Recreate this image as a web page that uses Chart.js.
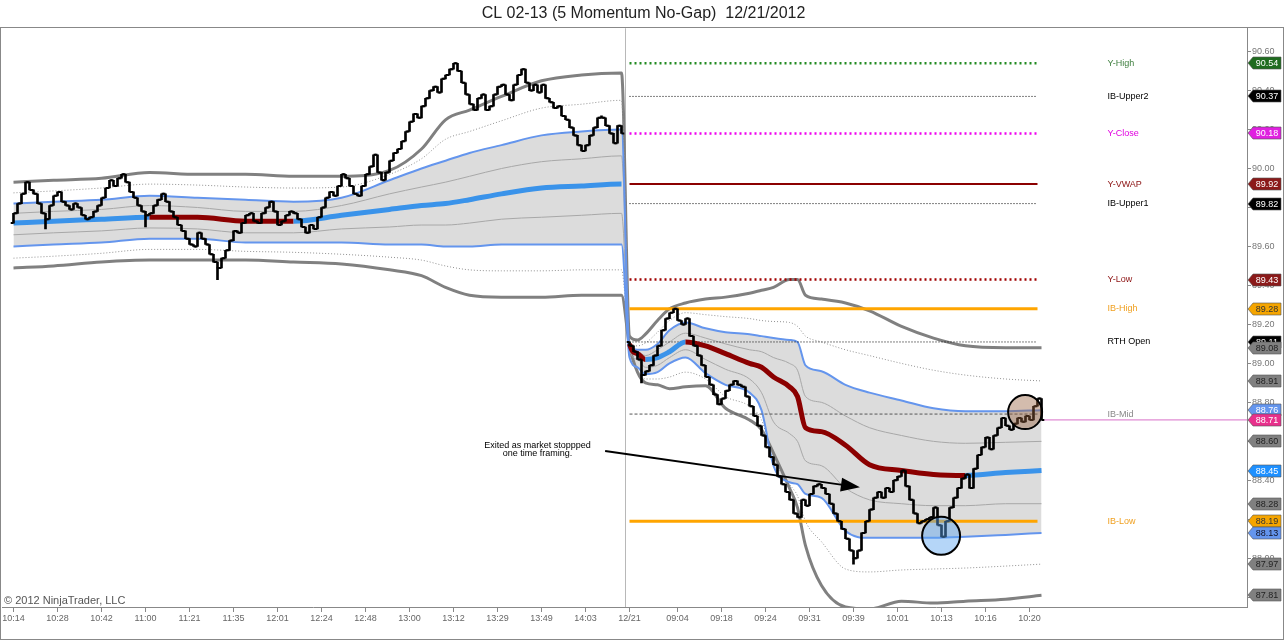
<!DOCTYPE html>
<html>
<head>
<meta charset="utf-8">
<script src="https://cdn.jsdelivr.net/npm/chart.js@4.4.1/dist/chart.umd.min.js"></script>
<style>
  html, body { margin: 0; padding: 0; background: #fff; }
  #wrap { position: relative; width: 1285px; height: 641px; }
</style>
</head>
<body>
<div id="wrap"><canvas id="grafico" width="1285" height="641"></canvas></div>
<script>
// ===============================
// DATA
// ===============================
const titleText = "CL 02-13 (5 Momentum No-Gap)  12/21/2012";

// x axis: bar index of each time label
const tickIdx = [2, 13, 24, 35, 46, 57, 68, 79, 90, 101, 112, 123, 134, 145,
                 156, 168, 179, 190, 201, 212, 223, 234, 245, 256];
const tickLabels = ["10:14", "10:28", "10:42", "11:00", "11:21", "11:35", "12:01", "12:24",
                    "12:48", "13:00", "13:12", "13:29", "13:49", "14:03",
                    "12/21", "09:04", "09:18", "09:24", "09:31", "09:39", "10:01", "10:13", "10:16", "10:20"];

// momentum bars, no-gap: each bar opens at the previous close
const prevStart = 2;
const prevOpen = 89.72;
const prevCloses = [
  89.77, 89.82, 89.87, 89.93, 89.89, 89.87, 89.82, 89.77, 89.74, 89.81,
  89.86, 89.88, 89.83, 89.81, 89.79, 89.82, 89.80, 89.76, 89.74, 89.75,
  89.78, 89.81, 89.85, 89.90, 89.94, 89.91, 89.95, 89.97, 89.93, 89.88,
  89.85, 89.81, 89.78, 89.76, 89.77, 89.81, 89.84, 89.87, 89.83, 89.78,
  89.75, 89.71, 89.68, 89.64, 89.61, 89.60, 89.67, 89.64, 89.61, 89.56,
  89.52, 89.49, 89.54, 89.58, 89.63, 89.68, 89.67, 89.72, 89.76, 89.77,
  89.73, 89.72, 89.77, 89.80, 89.83, 89.78, 89.71, 89.73, 89.76, 89.78,
  89.77, 89.74, 89.70, 89.67, 89.71, 89.69, 89.75, 89.80, 89.85, 89.88,
  89.86, 89.91, 89.97, 89.95, 89.91, 89.87, 89.86, 89.91, 89.97, 90.01,
  90.07, 89.98, 89.94, 89.98, 90.04, 90.08, 90.10, 90.14, 90.19, 90.24,
  90.28, 90.26, 90.32, 90.36, 90.40, 90.42, 90.39, 90.46, 90.48, 90.51,
  90.54, 90.50, 90.44, 90.38, 90.33, 90.30, 90.36, 90.38, 90.30, 90.32,
  90.38, 90.42, 90.43, 90.38, 90.35, 90.43, 90.48, 90.51, 90.44, 90.40,
  90.43, 90.39, 90.43, 90.36, 90.34, 90.31, 90.32, 90.27, 90.25, 90.21,
  90.17, 90.12, 90.09, 90.12, 90.17, 90.21, 90.26, 90.26, 90.22, 90.18,
  90.13, 90.22, 90.18
];
const rthStart = 156;
const rthOpen = 89.11;
const rthCloses = [
  89.09, 89.06, 89.02, 88.94, 88.96, 88.99, 89.04, 89.09, 89.17, 89.23,
  89.26, 89.28, 89.22, 89.20, 89.23, 89.14, 89.09, 89.04, 88.99, 88.93,
  88.89, 88.84, 88.79, 88.82, 88.86, 88.89, 88.91, 88.89, 88.88, 88.83,
  88.78, 88.73, 88.68, 88.63, 88.57, 88.52, 88.48, 88.42, 88.38, 88.34,
  88.30, 88.23, 88.21, 88.30, 88.27, 88.33, 88.37, 88.38, 88.36, 88.33,
  88.28, 88.23, 88.19, 88.15, 88.10, 88.04, 88.00, 88.04, 88.13, 88.19,
  88.25, 88.31, 88.34, 88.31, 88.36, 88.34, 88.40, 88.42, 88.45, 88.37,
  88.30, 88.23, 88.18, 88.19, 88.20, 88.21, 88.26, 88.17, 88.11, 88.19,
  88.26, 88.31, 88.36, 88.41, 88.43, 88.36, 88.46, 88.53, 88.57, 88.62,
  88.56, 88.63, 88.67, 88.72, 88.68, 88.66, 88.69, 88.72, 88.70, 88.73,
  88.71, 88.78, 88.82, 88.71
];
// bars with a tail beyond open/close
const wickIdx = [10, 35, 53, 159, 212];
const wickVals = [89.69, 89.70, 89.43, 88.90, 87.97];

// VWAP with deviation bands, sampled at these bar indexes
const bandIdx = [2, 12, 24, 36, 48, 60, 72, 84, 96, 104, 110, 116, 124, 134, 144, 154,
                 156, 158, 160, 163, 166, 170, 175, 180, 186, 189, 192, 196, 198, 200, 204, 210, 216, 224, 232, 240, 250, 259];
const vwap = [89.72, 89.73, 89.74, 89.75, 89.75, 89.73, 89.73, 89.76, 89.79, 89.81, 89.82, 89.84, 89.87, 89.90, 89.91, 89.92,
              89.10, 89.05, 89.02, 89.03, 89.06, 89.11, 89.09, 89.05, 89.00, 88.98, 88.93, 88.88, 88.83, 88.67, 88.65, 88.58, 88.48, 88.45, 88.43, 88.425, 88.44, 88.45];
const upper05 = [89.77, 89.78, 89.79, 89.81, 89.80, 89.78, 89.78, 89.81, 89.87, 89.905, 89.93, 89.96, 90.00, 90.035, 90.05, 90.065,
                 89.09, 89.06, 89.04, 89.07, 89.11, 89.155, 89.13, 89.10, 89.07, 89.06, 89.03, 89.00, 88.965, 88.83, 88.80, 88.73, 88.67, 88.63, 88.60, 88.59, 88.595, 88.60];
const lower05 = [89.66, 89.67, 89.68, 89.695, 89.69, 89.67, 89.67, 89.69, 89.70, 89.71, 89.71, 89.72, 89.74, 89.75, 89.76, 89.77,
                 89.07, 89.02, 88.98, 88.99, 89.03, 89.07, 89.02, 88.97, 88.92, 88.85, 88.70, 88.64, 88.60, 88.50, 88.475, 88.36, 88.30, 88.28, 88.27, 88.27, 88.28, 88.28];
const upper1 = [89.82, 89.83, 89.84, 89.86, 89.85, 89.84, 89.83, 89.85, 89.94, 90.00, 90.04, 90.08, 90.12, 90.17, 90.19, 90.20,
                89.08, 89.07, 89.07, 89.10, 89.17, 89.21, 89.18, 89.16, 89.15, 89.14, 89.13, 89.12, 89.11, 88.99, 88.96, 88.89, 88.85, 88.81, 88.77, 88.755, 88.755, 88.76];
const lower1 = [89.60, 89.61, 89.62, 89.64, 89.64, 89.62, 89.62, 89.62, 89.61, 89.61, 89.60, 89.60, 89.61, 89.61, 89.61, 89.61,
                89.03, 88.98, 88.945, 88.955, 89.00, 89.03, 88.95, 88.89, 88.85, 88.76, 88.475, 88.39, 88.38, 88.33, 88.31, 88.14, 88.105, 88.105, 88.105, 88.11, 88.12, 88.13];
const upper15 = [89.875, 89.885, 89.90, 89.92, 89.915, 89.905, 89.90, 89.905, 89.97, 90.05, 90.15, 90.19, 90.245, 90.31, 90.33, 90.35,
                 89.11, 89.09, 89.105, 89.16, 89.22, 89.26, 89.25, 89.24, 89.23, 89.22, 89.215, 89.21, 89.19, 89.14, 89.11, 89.07, 89.04, 89.00, 88.965, 88.94, 88.92, 88.91];
const lower15 = [89.54, 89.55, 89.565, 89.585, 89.585, 89.575, 89.57, 89.56, 89.545, 89.53, 89.50, 89.48, 89.475, 89.475, 89.48, 89.48,
                 89.06, 88.965, 88.92, 88.92, 88.93, 88.955, 88.92, 88.83, 88.78, 88.71, 88.51, 88.38, 88.32, 88.19, 88.085, 87.945, 87.93, 87.94, 87.945, 87.95, 87.96, 87.97];
const upper2 = [89.93, 89.94, 89.95, 89.98, 89.97, 89.97, 89.96, 89.96, 89.99, 90.10, 90.25, 90.30, 90.37, 90.45, 90.48, 90.49,
                89.14, 89.12, 89.15, 89.22, 89.28, 89.31, 89.33, 89.34, 89.36, 89.375, 89.39, 89.43, 89.43, 89.35, 89.33, 89.31, 89.27, 89.19, 89.13, 89.09, 89.08, 89.08];
const lower2 = [89.49, 89.50, 89.52, 89.53, 89.53, 89.53, 89.52, 89.51, 89.48, 89.45, 89.39, 89.35, 89.34, 89.34, 89.35, 89.35,
                89.09, 88.955, 88.90, 88.89, 88.87, 88.88, 88.885, 88.77, 88.71, 88.66, 88.54, 88.36, 88.26, 88.065, 87.86, 87.75, 87.74, 87.78, 87.77, 87.78, 87.79, 87.81];

// key levels of the session
const levelNames = ["Y-High", "IB-Upper2", "Y-Close", "Y-VWAP", "IB-Upper1", "Y-Low", "IB-High", "RTH Open", "IB-Mid", "IB-Low"];
const levelValues = [90.54, 90.37, 90.18, 89.92, 89.82, 89.43, 89.28, 89.11, 88.74, 88.19];
const levelFrom = 156, levelTo = 258, levelLabelIdx = 275.5;

// price markers on the right axis
const tagValues = [90.54, 90.37, 90.18, 89.92, 89.82, 89.43, 89.28, 89.11, 89.08, 88.91,
                   88.76, 88.71, 88.60, 88.45, 88.28, 88.19, 88.13, 87.97, 87.81];
const lastPrice = 88.71;

// drawn objects
const circleA = { x: 254.9, y: 88.75, r: 17 };
const circleB = { x: 233.9, y: 88.115, r: 19 };
const arrowFrom = { x: 149.9, y: 88.55 };
const arrowTo = { x: 213.6, y: 88.364 };
const noteLines = ["Exited as market stoppped", "one time framing."];
const noteIdx = 133;
const noteVals = [88.58, 88.54];
const sessionBreak = 155;

// ===============================
// STYLE
// ===============================
const FONT = "'Liberation Sans', Arial, sans-serif";
const levelStyles = [
  { color: "#228b22", width: 2.5, dash: [2, 3], text: "#3f7f3f" },
  { color: "#000", width: 1, dash: [1, 2], text: "#000" },
  { color: "#ee00ee", width: 2.5, dash: [2, 3], text: "#e000e0" },
  { color: "#8b0000", width: 2, dash: [], text: "#8b1010" },
  { color: "#000", width: 1, dash: [1, 2], text: "#000" },
  { color: "#a00000", width: 2.5, dash: [2, 3], text: "#8b1010" },
  { color: "#ffa500", width: 3, dash: [], text: "#f0a020" },
  { color: "#000", width: 1, dash: [1, 2], text: "#000" },
  { color: "#555", width: 1, dash: [3, 2], text: "#888" },
  { color: "#ffa500", width: 3, dash: [], text: "#f0a020" }
];
const tagStyles = [
  ["#1f6b1f", "#fff"], ["#000", "#fff"], ["#e020e0", "#fff"], ["#8b1a1a", "#fff"], ["#000", "#fff"],
  ["#8b1a1a", "#fff"], ["#f5a500", "#333"], ["#000", "#fff"], ["#808080", "#222"], ["#808080", "#222"],
  ["#6495ed", "#fff"], ["#e8308c", "#fff"], ["#808080", "#222"], ["#1e90ff", "#fff"], ["#808080", "#222"],
  ["#f5a500", "#333"], ["#6495ed", "#112"], ["#808080", "#222"], ["#808080", "#222"]
];
const midUp = "#3a93ea";
const midDn = "#8b0000";

// ===============================
// BUILD
// ===============================
function buildBars(start, firstOpen, closes) {
  const bodies = [], opens = [], shuts = [];
  closes.forEach((c, k) => {
    const i = start + k;
    const o = k === 0 ? firstOpen : closes[k - 1];
    bodies.push({ x: i, y: [o, c] });
    opens.push({ x: i - 0.35, y: o });
    shuts.push({ x: i + 0.35, y: c });
  });
  return { bodies, opens, shuts };
}

function closeAt(i) {
  if (i >= rthStart) return rthCloses[i - rthStart];
  return prevCloses[i - prevStart];
}

const prev = buildBars(prevStart, prevOpen, prevCloses);
const rth = buildBars(rthStart, rthOpen, rthCloses);
const bodies = prev.bodies.concat(rth.bodies);
const opens = prev.opens.concat(rth.opens);
const shuts = prev.shuts.concat(rth.shuts);
const wicks = wickIdx.map((i, k) => ({ x: i, y: [closeAt(i), wickVals[k]] }));

const pts = vals => bandIdx.map((x, k) => ({ x, y: vals[k] }));

function bandLine(vals, color, width, dash, extra) {
  return Object.assign({
    type: "line", data: pts(vals), borderColor: color, borderWidth: width,
    borderDash: dash, pointRadius: 0, cubicInterpolationMode: "monotone", fill: false, order: 5
  }, extra || {});
}

// vwap colour follows its slope, and it restarts at the new session
function vwapColour(c) {
  if (c.p0.parsed.x < sessionBreak && c.p1.parsed.x > sessionBreak) return "rgba(0,0,0,0)";
  return c.p1.parsed.y > c.p0.parsed.y ? midUp : midDn;
}

const levelSets = levelValues.map((v, k) => ({
  type: "line",
  data: [{ x: levelFrom, y: v }, { x: levelTo, y: v }],
  borderColor: levelStyles[k].color, borderWidth: levelStyles[k].width,
  borderDash: levelStyles[k].dash, pointRadius: 0, order: 3
}));

const datasets = [
  { type: "bar", data: bodies, backgroundColor: "#000", barThickness: 2, minBarLength: 2, grouped: false, order: 0 },
  { type: "bar", data: wicks, backgroundColor: "#000", barThickness: 2, grouped: false, order: 0 },
  { type: "scatter", data: opens, pointStyle: "line", pointRadius: 1.4, borderWidth: 2, borderColor: "#000", order: 0 },
  { type: "scatter", data: shuts, pointStyle: "line", pointRadius: 1.4, borderWidth: 2, borderColor: "#000", order: 0 },
  bandLine(vwap, midUp, 5, [], { order: 2, segment: { borderColor: vwapColour } }),
  bandLine(upper1, "#6495ed", 2, [], { fill: "+1", backgroundColor: "#dcdcdc", order: 4 }),
  bandLine(lower1, "#6495ed", 2, [], { order: 4 }),
  bandLine(upper05, "#a8a8a8", 1, []),
  bandLine(lower05, "#a8a8a8", 1, []),
  bandLine(upper15, "#909090", 1, [1, 2]),
  bandLine(lower15, "#909090", 1, [1, 2]),
  bandLine(upper2, "#808080", 3, []),
  bandLine(lower2, "#808080", 3, []),
  ...levelSets,
  { type: "line", data: [{ x: sessionBreak, y: 87.5 }, { x: sessionBreak, y: 91 }],
    borderColor: "#b8b8b8", borderWidth: 1, pointRadius: 0, order: 8 },
  { type: "line", data: [{ x: rthStart + rthCloses.length - 1, y: lastPrice }, { x: 320, y: lastPrice }],
    borderColor: "#d870c8", borderWidth: 1, pointRadius: 0, order: 3 },
  { type: "bubble", data: [circleA], backgroundColor: "rgba(150,95,60,0.42)", borderColor: "#000", borderWidth: 2, order: -1 },
  { type: "bubble", data: [circleB], backgroundColor: "rgba(90,165,240,0.45)", borderColor: "#000", borderWidth: 2, order: -1 }
];

// ===============================
// PLUGINS (texts and overlays)
// ===============================
const overlays = {
  id: "overlays",
  afterDatasetsDraw(chart) {
    const { ctx, scales: { x, y } } = chart;
    ctx.save();
    // level names
    ctx.font = "9px " + FONT;
    ctx.textBaseline = "middle";
    ctx.textAlign = "left";
    levelNames.forEach((name, k) => {
      ctx.fillStyle = levelStyles[k].text;
      ctx.fillText(name, x.getPixelForValue(levelLabelIdx), y.getPixelForValue(levelValues[k]));
    });
    // arrow
    const x0 = x.getPixelForValue(arrowFrom.x), y0 = y.getPixelForValue(arrowFrom.y);
    const x1 = x.getPixelForValue(arrowTo.x), y1 = y.getPixelForValue(arrowTo.y);
    const ang = Math.atan2(y1 - y0, x1 - x0);
    ctx.strokeStyle = "#000";
    ctx.lineWidth = 2;
    ctx.beginPath();
    ctx.moveTo(x0, y0);
    ctx.lineTo(x1 - 14 * Math.cos(ang), y1 - 14 * Math.sin(ang));
    ctx.stroke();
    ctx.fillStyle = "#000";
    ctx.beginPath();
    ctx.moveTo(x1, y1);
    ctx.lineTo(x1 - 19 * Math.cos(ang) + 7 * Math.sin(ang), y1 - 19 * Math.sin(ang) - 7 * Math.cos(ang));
    ctx.lineTo(x1 - 19 * Math.cos(ang) - 7 * Math.sin(ang), y1 - 19 * Math.sin(ang) + 7 * Math.cos(ang));
    ctx.closePath();
    ctx.fill();
    // note
    ctx.textAlign = "center";
    ctx.font = "9px " + FONT;
    noteLines.forEach((t, k) => ctx.fillText(t, x.getPixelForValue(noteIdx), y.getPixelForValue(noteVals[k])));
    // copyright
    ctx.textAlign = "left";
    ctx.fillStyle = "#555";
    ctx.font = "11px " + FONT;
    ctx.fillText("\u00a9 2012 NinjaTrader, LLC", 4, chart.chartArea.bottom - 6);
    ctx.restore();
  },
  afterDraw(chart) {
    const { ctx, scales: { y } } = chart;
    const right = chart.chartArea.right;
    ctx.save();
    // price tags
    ctx.font = "9px " + FONT;
    ctx.textAlign = "center";
    ctx.textBaseline = "middle";
    tagValues.forEach((v, k) => {
      const py = Math.round(y.getPixelForValue(v));
      ctx.fillStyle = tagStyles[k][0];
      ctx.beginPath();
      ctx.moveTo(right + 1, py);
      ctx.lineTo(right + 6, py - 6);
      ctx.lineTo(right + 34, py - 6);
      ctx.lineTo(right + 34, py + 6);
      ctx.lineTo(right + 6, py + 6);
      ctx.closePath();
      ctx.fill();
      ctx.strokeStyle = "#555";
      ctx.lineWidth = 0.6;
      ctx.stroke();
      ctx.fillStyle = tagStyles[k][1];
      ctx.fillText(v.toFixed(2), right + 20, py + 0.5);
    });
    // outer frame
    ctx.strokeStyle = "#888";
    ctx.lineWidth = 1;
    ctx.strokeRect(0.5, 27.5, chart.width - 2, chart.height - 29);
    ctx.restore();
  }
};

// ===============================
// CHART
// ===============================
Chart.defaults.font.family = FONT;

new Chart(document.getElementById("grafico"), {
  type: "bar",
  data: { datasets },
  plugins: [overlays],
  options: {
    responsive: false,
    animation: false,
    devicePixelRatio: 1,
    events: [],
    layout: { autoPadding: false, padding: { left: 2, right: 0, top: 0, bottom: 0 } },
    plugins: {
      legend: { display: false },
      tooltip: { enabled: false },
      filler: { drawTime: "beforeDatasetsDraw" },
      title: {
        display: true, text: titleText, color: "#222",
        font: { size: 16, weight: "normal", family: FONT },
        padding: { top: 4, bottom: 5 }
      }
    },
    scales: {
      x: {
        type: "linear", min: -0.875, max: 310.375, offset: false,
        afterBuildTicks: s => { s.ticks = tickIdx.map(v => ({ value: v })); },
        afterFit: s => { s.height = 34; s.paddingLeft = 0; s.paddingRight = 0; },
        ticks: {
          autoSkip: false, maxRotation: 0, padding: 1, color: "#666", font: { size: 9 },
          callback: v => tickLabels[tickIdx.indexOf(v)]
        },
        grid: { drawOnChartArea: false, offset: false, tickLength: 5, color: "#888" },
        border: { color: "#888" }
      },
      y: {
        position: "right", min: 87.75, max: 90.72,
        afterFit: s => { s.width = 38; s.paddingTop = 0; s.paddingBottom = 0; },
        ticks: {
          stepSize: 0.2, includeBounds: false, padding: 1, color: "#777", font: { size: 9 },
          callback: v => v.toFixed(2)
        },
        grid: { drawOnChartArea: false, tickLength: 4, color: "#888" },
        border: { color: "#888" }
      }
    }
  }
});
</script>
</body>
</html>
